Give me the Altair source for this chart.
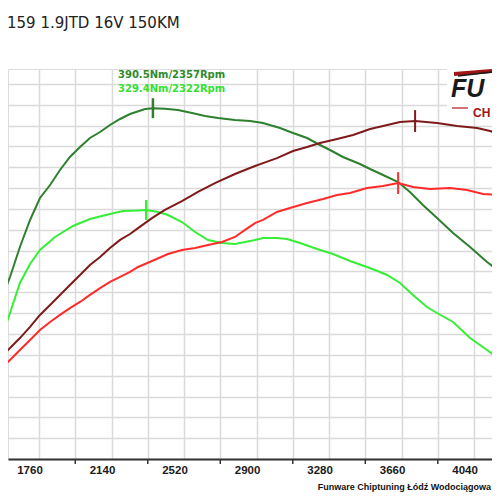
import altair as alt
import pandas as pd

# ---------------- data ----------------
SERIES = ["Moment po", "Moment przed", "Moc po", "Moc przed"]
COLORS = ["#2e7f2e", "#35ee35", "#7f1a1a", "#ff2b2b"]

rpm_tq_tuned = [1556, 1608, 1660, 1713, 1765, 1818, 1870, 1922, 1975, 2027, 2080, 2132, 2185, 2237,
                2316, 2357, 2420, 2488, 2562, 2630, 2698, 2787, 2866, 2934, 3023, 3091, 3165, 3222,
                3285, 3353, 3442, 3495, 3563, 3642, 3704, 3772, 3846, 3930, 4019, 4108, 4176]
tq_tuned = [273.6, 289.2, 307.2, 323.4, 336.6, 344.4, 353.4, 361.2, 367.2, 372.6, 376.2, 380.4, 384.0, 387.0,
            390.0, 390.5, 390.2, 389.4, 387.6, 385.8, 384.6, 383.4, 382.8, 381.6, 378.6, 375.6, 372.6, 369.0,
            365.4, 361.2, 357.0, 354.0, 350.4, 346.2, 340.2, 332.4, 324.6, 315.6, 307.2, 298.2, 292.2]

rpm_tq_stock = [1556, 1608, 1660, 1713, 1765, 1844, 1938, 2027, 2132, 2200, 2279, 2322,
                2384, 2436, 2509, 2578, 2646, 2719, 2787, 2840, 2892, 2934, 3007, 3060, 3128, 3217,
                3301, 3390, 3479, 3547, 3584, 3652, 3720, 3793, 3846, 3930, 4019, 4108, 4176]
tq_stock = [250.2, 267.6, 285.6, 297.0, 305.4, 313.2, 319.8, 324.0, 327.0, 328.8, 329.1, 329.4,
            328.2, 326.4, 322.2, 316.2, 311.4, 309.6, 309.0, 310.2, 311.4, 312.6, 312.6, 312.0, 309.6, 306.0,
            303.0, 298.8, 295.2, 292.2, 290.4, 285.6, 278.4, 271.2, 267.6, 262.2, 252.6, 245.4, 239.4]

rpm_pw_tuned = [1556, 1608, 1660, 1713, 1765, 1818, 1870, 1922, 1975, 2027, 2080, 2132, 2185, 2237,
                2279, 2352, 2420, 2509, 2593, 2682, 2787, 2892, 2934, 3007, 3091, 3165, 3233, 3322,
                3406, 3495, 3563, 3652, 3731, 3846, 3951, 4056, 4124, 4176]
pw_tuned = [54.5, 59.9, 65.3, 71.3, 77.8, 83.2, 88.6, 94.0, 99.4, 104.8, 109.1, 113.9, 118.3, 121.5,
            124.7, 130.1, 134.5, 139.3, 144.2, 149.0, 153.9, 158.2, 159.8, 162.5, 166.3, 168.5, 170.6, 172.8,
            175.0, 178.2, 179.8, 182.0, 182.5, 181.4, 179.8, 178.7, 177.1, 175.5]

rpm_pw_stock = [1556, 1608, 1660, 1713, 1765, 1818, 1870, 1922, 1975, 2027, 2080, 2132, 2185, 2237,
                2279, 2352, 2436, 2509, 2578, 2646, 2719, 2787, 2840, 2892, 2934, 3007, 3075, 3165,
                3249, 3322, 3390, 3479, 3563, 3642, 3720, 3809, 3914, 4003, 4087, 4176]
pw_stock = [48.1, 53.5, 58.9, 64.3, 69.7, 74.0, 77.8, 81.5, 84.8, 88.6, 92.3, 95.6, 98.3, 101.0,
            103.7, 106.9, 110.7, 112.9, 113.9, 115.6, 117.2, 119.9, 123.7, 127.4, 129.1, 133.4, 135.5, 138.2,
            140.4, 142.6, 143.6, 146.3, 147.4, 149.0, 146.9, 145.8, 146.3, 145.3, 143.1, 142.6]

# peak markers
tq_peak_rpm = [2357, 2322]
tq_peak_val = [390.5, 329.4]
pw_peak_rpm = [3731, 3642]
pw_peak_val = [182.5, 149.0]

GRID_RPM = [1570, 1760, 1950, 2140, 2330, 2520, 2710, 2900, 3090, 3280, 3470, 3660, 3850, 4040]
LABEL_RPM = [1760, 2140, 2520, 2900, 3280, 3660, 4040]
TICK_RPM = [1570, 1950, 2330, 2710, 3090, 3470, 3850]
GRID_TQ = [180, 192.5, 205, 217.5, 230, 242.5, 255, 267.5, 280, 292.5, 305, 317.5, 330,
           342.5, 355, 367.5, 380, 392.5, 405]

TITLE = "159 1.9JTD 16V 150KM"
LABEL_TUNED = "390.5Nm/2357Rpm"
LABEL_STOCK = "329.4Nm/2322Rpm"
FOOTER = "Funware Chiptuning Łódź Wodociągowa"

# ---------------- tables ----------------
tq_df = pd.concat([
    pd.DataFrame({"rpm": rpm_tq_tuned, "val": tq_tuned, "series": SERIES[0]}),
    pd.DataFrame({"rpm": rpm_tq_stock, "val": tq_stock, "series": SERIES[1]}),
])
pw_df = pd.concat([
    pd.DataFrame({"rpm": rpm_pw_tuned, "val": pw_tuned, "series": SERIES[2]}),
    pd.DataFrame({"rpm": rpm_pw_stock, "val": pw_stock, "series": SERIES[3]}),
])
tq_peak_df = pd.DataFrame({"rpm": tq_peak_rpm, "val": tq_peak_val, "series": SERIES[:2]})
tq_peak_df["lo"] = tq_peak_df["val"] - 6
tq_peak_df["hi"] = tq_peak_df["val"] + 6
pw_peak_df = pd.DataFrame({"rpm": pw_peak_rpm, "val": pw_peak_val, "series": SERIES[2:]})
pw_peak_df["lo"] = pw_peak_df["val"] - 5.9
pw_peak_df["hi"] = pw_peak_df["val"] + 5.9

# ---------------- scales / axes ----------------
x_scale = alt.Scale(domain=[1597.5, 4134], nice=False, zero=False)
tq_scale = alt.Scale(domain=[180, 414], nice=False, zero=False)
pw_scale = alt.Scale(domain=[0, 210.6], nice=False, zero=False)
color_scale = alt.Scale(domain=SERIES, range=COLORS)

x_axis = alt.Axis(values=GRID_RPM, grid=True, gridColor="#dadada", gridWidth=1.5,
                  ticks=False, labels=False, domainColor="#333333", domainWidth=2,
                  title=None)
x_enc = alt.X("rpm:Q", scale=x_scale, axis=x_axis)

tq_lines = alt.Chart(tq_df).mark_line(strokeWidth=2, clip=True).encode(
    x=x_enc,
    y=alt.Y("val:Q", scale=tq_scale,
            axis=alt.Axis(values=GRID_TQ, grid=True, gridColor="#dadada", gridWidth=1.5,
                          labels=False, ticks=False, domain=False, title=None)),
    color=alt.Color("series:N", scale=color_scale, legend=None),
    detail="series:N",
)
pw_lines = alt.Chart(pw_df).mark_line(strokeWidth=2, clip=True).encode(
    x=x_enc,
    y=alt.Y("val:Q", scale=pw_scale, axis=None),
    color=alt.Color("series:N", scale=color_scale, legend=None),
)
tq_marks = alt.Chart(tq_peak_df).mark_rule(strokeWidth=2.5).encode(
    x=x_enc,
    y=alt.Y("lo:Q", scale=tq_scale, axis=None),
    y2="hi:Q",
    color=alt.Color("series:N", scale=color_scale, legend=None),
)
pw_marks = alt.Chart(pw_peak_df).mark_rule(strokeWidth=2).encode(
    x=x_enc,
    y=alt.Y("lo:Q", scale=pw_scale, axis=None),
    y2="hi:Q",
    color=alt.Color("series:N", scale=color_scale, legend=None),
)
ticks = alt.Chart(pd.DataFrame({"rpm": TICK_RPM})).mark_rule(color="#333333", strokeWidth=1.5).encode(
    x=x_enc, y=alt.value(390), y2=alt.value(395)
)
xlabels = alt.Chart(pd.DataFrame({"rpm": LABEL_RPM})).mark_text(
    font="Liberation Sans", fontWeight="bold", fontSize=11.5, color="#1a1a1a",
    dx=-9, baseline="middle", align="center").encode(
    x=x_enc, y=alt.value(402), text=alt.Text("rpm:Q", format="d"))


def label(text, x, y, **kw):
    return alt.Chart(pd.DataFrame({"t": [text]})).mark_text(**kw).encode(
        x=alt.value(x), y=alt.value(y), text="t:N")


title = label(TITLE, -1, -46, font="DejaVu Sans", fontSize=15, color="#222222",
              align="left", baseline="middle")
lab1 = label(LABEL_TUNED, 110, 6, font="DejaVu Sans", fontSize=10, fontWeight="bold",
             color="#2e8b2e", align="left", baseline="middle")
lab2 = label(LABEL_STOCK, 110, 20, font="DejaVu Sans", fontSize=10, fontWeight="bold",
             color="#33e033", align="left", baseline="middle")
footer = label(FOOTER, 483, 418, font="Liberation Sans", fontSize=9, fontWeight="bold",
               color="#111111", align="right", baseline="middle")

logo_bg = alt.Chart(pd.DataFrame({"t": [0]})).mark_rect(color="white").encode(
    x=alt.value(439), x2=alt.value(484), y=alt.value(-10), y2=alt.value(42))
logo_fu = label("FU", 443, 28, font="Liberation Sans", fontSize=25, fontWeight="bold",
                fontStyle="italic", color="#1a1a1a", align="left", baseline="alphabetic")
logo_ch = label("CH", 465, 48, font="Liberation Sans", fontSize=12, fontWeight="bold",
                color="#a01515", align="left", baseline="alphabetic")
logo_line = alt.Chart(pd.DataFrame({"t": [0]})).mark_rule(color="#b01a1a", strokeWidth=1.2).encode(
    x=alt.value(444), x2=alt.value(460), y=alt.value(39), y2=alt.value(39))
logo_swoosh = alt.Chart(pd.DataFrame({"t": [0]})).mark_rule(color="#a01515", strokeWidth=4).encode(
    x=alt.value(446), x2=alt.value(484), y=alt.value(5), y2=alt.value(2))
logo_swoosh2 = alt.Chart(pd.DataFrame({"t": [0]})).mark_rule(color="#1a1a1a", strokeWidth=1.5).encode(
    x=alt.value(450), x2=alt.value(484), y=alt.value(7), y2=alt.value(3))

chart = alt.layer(
    tq_lines, pw_lines, tq_marks, pw_marks, ticks, xlabels,
    title, lab1, lab2, footer, logo_bg, logo_swoosh, logo_swoosh2, logo_fu, logo_ch, logo_line,
).resolve_scale(y="independent").properties(
    width=484, height=390,
    autosize=alt.AutoSizeParams(type="none"),
    padding={"left": 0, "top": 61, "right": 0, "bottom": 33},
).configure_view(stroke=None).configure(background="white")

chart.save("out.html", embed_options={"renderer": "svg", "actions": False})
